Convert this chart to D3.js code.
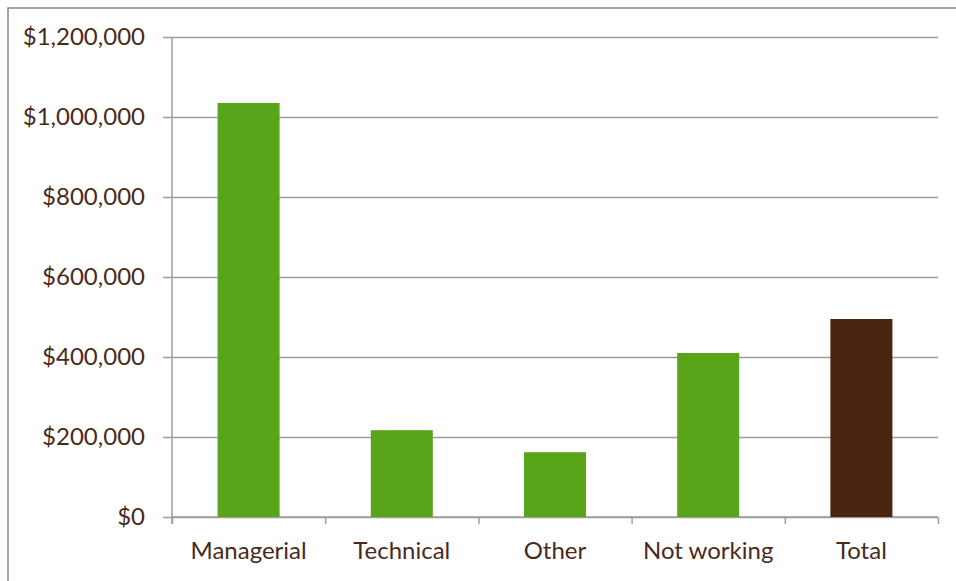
<!DOCTYPE html>
<html>
<head>
<meta charset="utf-8">
<script src="https://cdn.jsdelivr.net/npm/d3@7"></script>
<style>
  body { margin: 0; background: #fff; }
  text { font-family: Lato, "Open Sans", sans-serif; fill: #4a2a1c; }
</style>
</head>
<body>
<div id="chart"></div>
<script>
//Datos
const categorias = ['Managerial', 'Technical', 'Other', 'Not working', 'Total'];
const valores = [1035000, 217000, 162000, 410000, 495000];
const ticksY = [0, 200000, 400000, 600000, 800000, 1000000, 1200000];

const COLOR_VERDE = '#58a51a', COLOR_MARRON = '#4a2512', COLOR_GRID = '#a29b99';

let W = 956, H = 581;
let margin = {top: 37, right: 18, bottom: 64, left: 172},
    width = W - margin.left - margin.right,
    height = H - margin.top - margin.bottom;

let root = d3.select('#chart').append('svg').attr('width', W).attr('height', H);

//Marco
root.append('rect')
    .attr('x', 8).attr('y', 8).attr('width', 1000).attr('height', 700)
    .attr('fill', 'none').attr('stroke', '#8c8582').attr('stroke-width', 1.5);

let svg = root.append('g').attr('transform', 'translate(' + margin.left + ',' + margin.top + ')');

let x = d3.scaleBand().domain(categorias).range([0, width]).paddingInner(0.595).paddingOuter(0.2975);
let y = d3.scaleLinear().domain([0, 1200000]).range([height, 0]);

//Rejilla + eje Y
let yAxis = svg.append('g')
    .call(d3.axisLeft(y).tickValues(ticksY).tickSize(9).tickPadding(18).tickFormat(d => '$' + d3.format(',')(d)));
yAxis.select('.domain').attr('stroke', COLOR_GRID).attr('stroke-width', 1.5).attr('d', 'M0,0V' + (height + 7));
yAxis.selectAll('.tick line').attr('stroke', COLOR_GRID).attr('stroke-width', 1.5).attr('x1', width);
yAxis.selectAll('.tick text').style('font-size', '24px');

//Eje X
let xb = d3.scaleLinear().domain([0, 5]).range([0, width]);
let xAxis = svg.append('g').attr('transform', 'translate(0,' + height + ')');
xAxis.call(d3.axisBottom(xb).ticks(5).tickSize(7).tickFormat(''));
xAxis.select('.domain').attr('stroke', COLOR_GRID).attr('stroke-width', 1.5).attr('d', 'M0,0H' + width);
xAxis.selectAll('.tick line').attr('stroke', COLOR_GRID).attr('stroke-width', 1.5);

svg.append('g').selectAll('text').data(categorias).enter().append('text')
    .attr('x', d => x(d) + x.bandwidth() / 2)
    .attr('y', height + 42)
    .attr('text-anchor', 'middle')
    .style('font-size', '24px')
    .text(d => d);

//Barras
svg.append('g').selectAll('rect').data(categorias).enter().append('rect')
    .attr('x', d => x(d))
    .attr('y', (d, i) => y(valores[i]))
    .attr('width', x.bandwidth())
    .attr('height', (d, i) => height - y(valores[i]))
    .attr('fill', d => d === 'Total' ? COLOR_MARRON : COLOR_VERDE);
</script>
</body>
</html>
